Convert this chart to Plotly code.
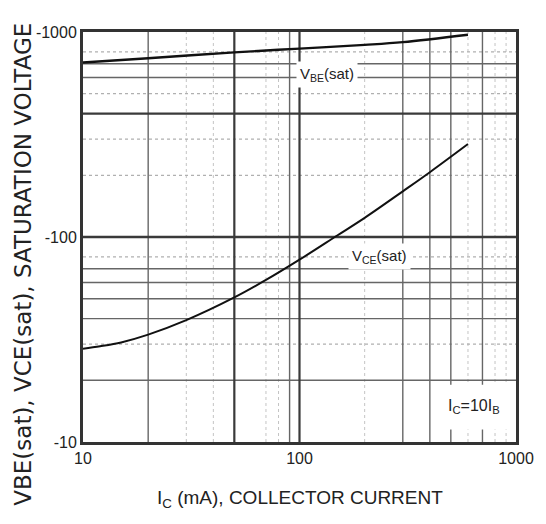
import math
import plotly.graph_objects as go

# Data (magnitudes in mV; axis labels show negative voltages)
ic_vbe = [10, 20, 50, 100, 200, 300, 600]
vbe_sat = [710, 745, 795, 830, 865, 892, 970]
ic_vce = [10, 12, 15, 20, 30, 50, 70, 100, 150, 200, 300, 400, 600]
vce_sat = [28.5, 29.3, 30.6, 33.4, 39.3, 50.7, 61.7, 77.5, 102, 124, 167, 207, 284]

x_tickvals = [10, 100, 1000]
x_ticktext = ["10", "100", "1000"]
y_tickvals = [10, 100, 1000]
y_ticktext = ["-10", "-100", "-1000"]

# grid line styles
vx_thick = [50, 100]
vx_solid = [20, 90, 300, 400, 500, 700]
vx_dot = [30, 40, 70, 80, 200, 600, 800, 900]
hy_thick = [100, 400]
hy_solid = [20, 40, 50, 60, 70, 600, 700]
hy_dot = [30, 80, 200, 300, 500, 800]

FONT = "Liberation Sans, Arial, sans-serif"
L = math.log10

fig = go.Figure()
fig.add_trace(go.Scatter(x=ic_vbe, y=vbe_sat, mode="lines", line=dict(color="#111", width=2.4, shape="spline"), showlegend=False))
fig.add_trace(go.Scatter(x=ic_vce, y=vce_sat, mode="lines", line=dict(color="#111", width=2, shape="spline"), showlegend=False))

shapes = []
def vline(v, color, width, dash):
    shapes.append(dict(type="line", xref="x", yref="y", x0=v, x1=v, y0=10, y1=1000,
                       line=dict(color=color, width=width, dash=dash), layer="below"))
def hline(v, color, width, dash):
    shapes.append(dict(type="line", xref="x", yref="y", y0=v, y1=v, x0=10, x1=1000,
                       line=dict(color=color, width=width, dash=dash), layer="below"))

for v in vx_dot: vline(v, "#c4c4c4", 1, "dot")
for v in hy_dot: hline(v, "#b0b0b0", 1.2, "dot")
for v in vx_solid: vline(v, "#666", 1.4, "solid")
for v in hy_solid: hline(v, "#666", 1.4, "solid")
for v in vx_thick: vline(v, "#3a3a3a", 2.2, "solid")
for v in hy_thick: hline(v, "#3a3a3a", 2.4, "solid")

# white box behind Ic=10IB label
shapes.append(dict(type="rect", xref="x", yref="y", x0=435, x1=975, y0=11.5, y1=19,
                   fillcolor="white", line=dict(width=0), layer="below"))

annotations = [
    dict(x=L(134), y=L(621), xref="x", yref="y", text="V<sub>BE</sub>(sat)", showarrow=False,
         xanchor="center", yanchor="middle",
         font=dict(family=FONT, size=15, color="#222"), bgcolor="white", borderpad=3),
    dict(x=L(235), y=L(80), xref="x", yref="y", text="V<sub>CE</sub>(sat)", showarrow=False,
         xanchor="center", yanchor="middle",
         font=dict(family=FONT, size=15, color="#222"), bgcolor="white", borderpad=3),
    dict(x=0.903, y=0.087, xref="paper", yref="paper", text="I<sub>C</sub>=10I<sub>B</sub>", showarrow=False,
         xanchor="center", yanchor="middle",
         font=dict(family=FONT, size=16, color="#222")),
    dict(x=-0.138, y=0.433, xref="paper", yref="paper", text="VBE(sat), VCE(sat), SATURATION VOLTAGE",
         xanchor="center", yanchor="middle",
         textangle=-90, showarrow=False, font=dict(family="DejaVu Sans, sans-serif", size=23, color="#222")),
    dict(x=0.502, y=-0.14, xref="paper", yref="paper", text="I<sub>C</sub> (mA), COLLECTOR CURRENT",
         xanchor="center", yanchor="middle",
         showarrow=False, font=dict(family=FONT, size=19, color="#222")),
]

fig.update_layout(
    width=546, height=524,
    margin=dict(l=83, r=21, t=32, b=82),
    paper_bgcolor="white", plot_bgcolor="white",
    shapes=shapes, annotations=annotations,
    showlegend=False,
)
fig.update_xaxes(type="log", range=[1, 3], tickvals=x_tickvals, ticktext=x_ticktext, showgrid=False,
                 showline=True, mirror=True, linecolor="#333", linewidth=3, ticks="",
                 tickfont=dict(family=FONT, size=16, color="#222"), zeroline=False)
fig.update_yaxes(type="log", range=[1, 3], tickvals=y_tickvals, ticktext=y_ticktext, showgrid=False,
                 showline=True, mirror=True, linecolor="#333", linewidth=3, ticks="",
                 tickfont=dict(family=FONT, size=16, color="#222"), zeroline=False)

fig.write_html("out.html")
